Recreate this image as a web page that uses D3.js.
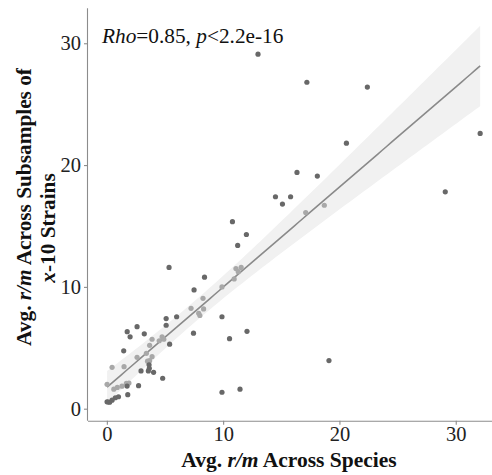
<!DOCTYPE html>
<html>
<head>
<meta charset="utf-8">
<script src="https://cdn.jsdelivr.net/npm/d3@7/dist/d3.min.js"></script>
<style>
  html, body { margin: 0; padding: 0; background: #fff; }
  svg { display: block; font-family: "Liberation Serif", "Times New Roman", serif; }
</style>
</head>
<body>
<svg id="chart" width="492" height="475"></svg>
<script>
// ---- data ----
// dark grey points
const darkX = [13.0, 17.2, 22.4, 20.6, 32.1, 16.35, 18.1, 14.5, 15.8, 15.1, 29.1, 10.8, 12.0, 11.25,
  5.35, 8.4, 7.5, 9.9, 6.0, 5.1, 5.1, 12.05, 7.45, 10.55, 5.4, 4.8, 11.45, 19.1, 9.9,
  2.6, 1.75, 3.22, 2.0, 1.45, 3.63, 3.65, 3.57, 2.94, 4.02, 2.73, 1.8, 1.74, 1.0, 0.73, 0.45, 0.02, 0.24, 0.1];
const darkY = [29.1, 26.8, 26.4, 21.8, 22.6, 19.4, 19.1, 17.4, 17.4, 16.8, 17.8, 15.35, 14.3, 13.4,
  11.6, 10.8, 9.75, 7.55, 7.55, 7.4, 6.85, 6.35, 6.2, 5.75, 5.3, 2.5, 1.6, 3.95, 1.35,
  6.73, 6.32, 6.15, 5.9, 4.75, 3.6, 3.32, 3.1, 3.1, 2.99, 1.89, 1.15, 1.86, 0.98, 0.9, 0.7, 0.57, 0.53, 0.55];
// light grey points
const lightX = [17.1, 18.7, 11.1, 11.55, 11.3, 10.95, 9.9, 8.27, 7.24, 8.32, 7.9, 8.0,
  4.75, 4.9, 3.89, 4.5, 3.68, 2.6, 3.4, 3.89, 3.68, 3.5, 0.45, 1.48, 0.02, 0.6, 0.9, 1.3, 1.68, 1.9];
const lightY = [16.1, 16.7, 11.5, 11.6, 11.25, 10.65, 10.0, 9.06, 8.24, 8.19, 7.83, 7.65,
  5.9, 5.7, 5.7, 5.58, 5.2, 4.22, 4.55, 4.27, 3.94, 3.9, 3.4, 3.45, 2.0, 1.6, 1.75, 1.85, 2.08, 2.1];

const xTicks = [0, 10, 20, 30];
const yTicks = [0, 10, 20, 30];

// ---- layout ----
const svg = d3.select("#chart");
const x = d3.scaleLinear().domain([-1.62, 33.72]).range([88, 499]);
const y = d3.scaleLinear().domain([-0.985, 32.87]).range([420.7, 8.3]);

// ---- linear fit with 95% CI (computed from the points) ----
const allX = darkX.concat(lightX), allY = darkY.concat(lightY);
const n = allX.length;
const mx = d3.mean(allX), my = d3.mean(allY);
let sxx = 0, sxy = 0;
for (let i = 0; i < n; i++) { sxx += (allX[i]-mx)**2; sxy += (allX[i]-mx)*(allY[i]-my); }
const slope = sxy / sxx, intercept = my - slope * mx;
let sse = 0;
for (let i = 0; i < n; i++) sse += (allY[i] - (intercept + slope*allX[i]))**2;
const s = Math.sqrt(sse / (n - 2));
const tval = 1.99;
const xmin = d3.min(allX), xmax = d3.max(allX);
const grid = d3.range(0, 81).map(i => xmin + (xmax - xmin) * i / 80);
const band = grid.map(g => {
  const fit = intercept + slope * g;
  const se = s * Math.sqrt(1/n + (g-mx)**2 / sxx);
  return {x: g, fit: fit, lo: fit - tval*se, hi: fit + tval*se};
});

svg.append("clipPath").attr("id", "plotclip")
  .append("rect").attr("x", 88).attr("y", 8.3).attr("width", 411).attr("height", 412.4);

const plot = svg.append("g").attr("clip-path", "url(#plotclip)");

plot.append("path").datum(band)
  .attr("fill", "#f1f1f1")
  .attr("d", d3.area().x(d => x(d.x)).y0(d => y(d.lo)).y1(d => y(d.hi)));

plot.append("path").datum(band)
  .attr("fill", "none").attr("stroke", "#8a8a8a").attr("stroke-width", 1.6)
  .attr("d", d3.line().x(d => x(d.x)).y(d => y(d.fit)));

plot.append("g").selectAll("circle").data(d3.range(lightX.length)).join("circle")
  .attr("cx", i => x(lightX[i])).attr("cy", i => y(lightY[i])).attr("r", 2.6)
  .attr("fill", "#a8a8a8");

plot.append("g").selectAll("circle").data(d3.range(darkX.length)).join("circle")
  .attr("cx", i => x(darkX[i])).attr("cy", i => y(darkY[i])).attr("r", 2.6)
  .attr("fill", "#686868");

// ---- axes ----
const xAxis = svg.append("g").attr("transform", "translate(0,420.7)")
  .call(d3.axisBottom(x).tickValues(xTicks).tickSize(4).tickPadding(2).tickSizeOuter(0));
const yAxis = svg.append("g").attr("transform", "translate(88,0)")
  .call(d3.axisLeft(y).tickValues(yTicks).tickSize(4).tickPadding(3).tickSizeOuter(0));
[xAxis, yAxis].forEach(a => {
  a.select(".domain").attr("stroke", "#8c8c8c").attr("stroke-width", 1.1);
  a.selectAll(".tick line").attr("stroke", "#8c8c8c").attr("stroke-width", 1.1);
  a.selectAll(".tick text").attr("fill", "#222").attr("font-size", 20.5)
    .attr("font-family", "Liberation Serif, Times New Roman, serif");
});
xAxis.select(".domain").attr("d", "M88,0.5H492");
yAxis.select(".domain").attr("d", "M-0.5,420.7V8.3");

// ---- annotation ----
const ann = svg.append("text").attr("x", 102).attr("y", 43).attr("font-size", 21.3).attr("fill", "#111");
ann.append("tspan").attr("font-style", "italic").text("Rho");
ann.append("tspan").text("=0.85, ");
ann.append("tspan").attr("font-style", "italic").text("p");
ann.append("tspan").text("<2.2e-16");

// ---- axis titles ----
const xt = svg.append("text").attr("x", 289).attr("y", 467).attr("text-anchor", "middle")
  .attr("font-size", 21.5).attr("font-weight", "bold").attr("fill", "#111");
xt.append("tspan").text("Avg. ");
xt.append("tspan").attr("font-style", "italic").text("r/m");
xt.append("tspan").text(" Across Species");

const yt1 = svg.append("text").attr("transform", "translate(31,207) rotate(-90)")
  .attr("text-anchor", "middle").attr("font-size", 21.3).attr("font-weight", "bold").attr("fill", "#111");
yt1.append("tspan").text("Avg. ");
yt1.append("tspan").attr("font-style", "italic").text("r/m");
yt1.append("tspan").text(" Across Subsamples of");

const yt2 = svg.append("text").attr("transform", "translate(55,228) rotate(-90)")
  .attr("text-anchor", "middle").attr("font-size", 21.3).attr("font-weight", "bold").attr("fill", "#111");
yt2.append("tspan").attr("font-style", "italic").text("x");
yt2.append("tspan").text("-10 Strains");
</script>
</body>
</html>
